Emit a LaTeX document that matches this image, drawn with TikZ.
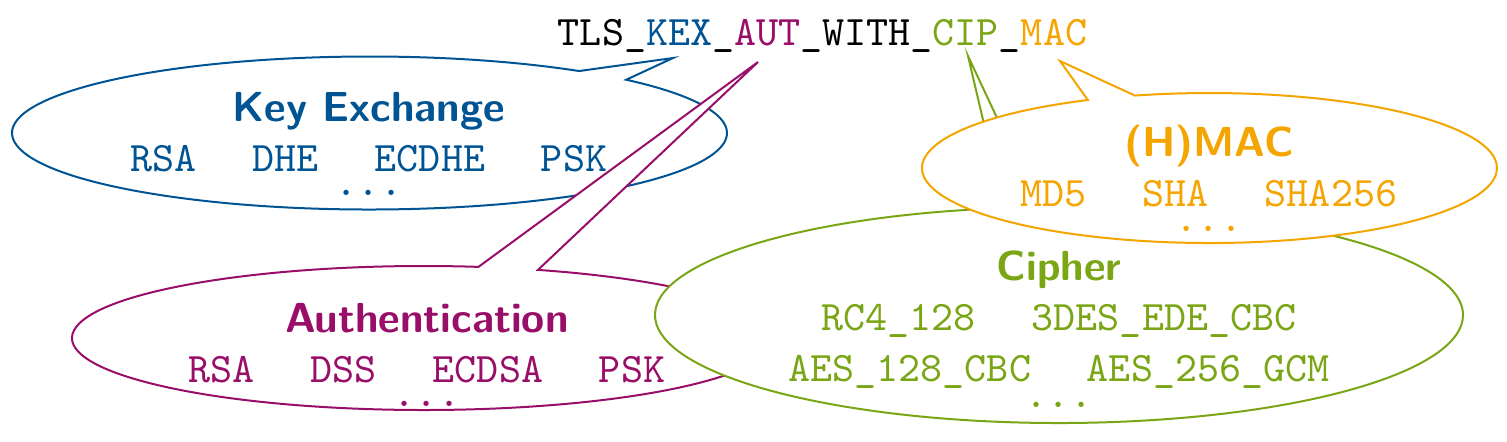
\documentclass[tikz,border=0pt]{standalone}
\usetikzlibrary{shapes.callouts}
\definecolor{kexcol}{RGB}{0,84,147}
\definecolor{autcol}{RGB}{152,14,104}
\definecolor{cipcol}{RGB}{122,166,22}
\definecolor{maccol}{RGB}{245,165,0}
\newcommand{\hd}[1]{{\sffamily\bfseries #1}}
\newcommand{\gap}{\hspace{1.33em}}
\tikzset{
  bubble/.style={ellipse callout, draw=#1, fill=white, line width=0.5pt, callout pointer arc=10, inner sep=0pt},
  blurb/.style={align=center, text=#1, font=\ttfamily\fontsize{10.5}{12.6}\selectfont, inner sep=0pt}
}
\begin{document}
\begin{tikzpicture}[x=0.25pt, y=-0.25pt]
  \useasboundingbox (0,0) rectangle (1507,441);
  \node[font=\ttfamily\fontsize{10.5}{12.6}\selectfont, anchor=base, inner sep=0pt] (suite) at (822.5,45)
    {TLS\_\textcolor{kexcol}{KEX}\_\textcolor{autcol}{AUT}\_WITH\_\textcolor{cipcol}{CIP}\_\textcolor{maccol}{MAC}};
  % key exchange
  \node[bubble=kexcol, minimum width=178.75pt, minimum height=38.25pt, callout absolute pointer={(673,58)}] (kex) at (369.5,133) {};
  \node[blurb=kexcol] (kextxt) at (369,144)
    {\hd{Key Exchange}\\RSA\gap DHE\gap ECDHE\gap PSK\\[-6.5pt]...};
  % authentication
  \node[bubble=autcol, minimum width=176pt, minimum height=36pt, callout absolute pointer={(758,62)}] (aut) at (424,338) {};
  \node[blurb=autcol] (auttxt) at (427,355)
    {\hd{Authentication}\\RSA\gap DSS\gap ECDSA\gap PSK\\[-6.5pt]...};
  % cipher
  \node[bubble=cipcol, minimum width=202pt, minimum height=54pt, callout pointer arc=5, callout absolute pointer={(968,56)}] (cip) at (1059,315) {};
  \node[blurb=cipcol] (ciptxt) at (1059,329)
    {\hd{Cipher}\\RC4\_128\gap 3DES\_EDE\_CBC\\AES\_128\_CBC\gap AES\_256\_GCM\\[-6pt]...};
  % mac
  \node[bubble=maccol, minimum width=143.75pt, minimum height=37.5pt, callout absolute pointer={(1060,61)}] (mac) at (1209.5,168) {};
  \node[blurb=maccol] (mactxt) at (1209,178)
    {\hd{(H)MAC}\\MD5\gap SHA\gap SHA256\\[-6.5pt]...};
\end{tikzpicture}
\end{document}
